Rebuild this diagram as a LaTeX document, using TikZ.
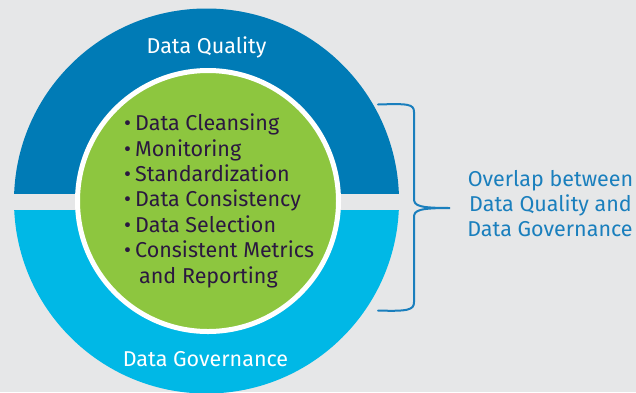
\documentclass[tikz,border=0pt]{standalone}
\usepackage{fontspec}
\setmainfont{Fira Sans}
\definecolor{bg}{HTML}{E6E7E8}
\definecolor{dq}{HTML}{007BB6}
\definecolor{dg}{HTML}{00B8E6}
\definecolor{gr}{HTML}{8DC63F}
\definecolor{tx}{HTML}{2B1840}
\definecolor{br}{HTML}{1A7FBD}
\begin{document}
\begin{tikzpicture}[x=1pt,y=-1pt,
  bigfont/.style={font=\fontsize{21.5}{25}\selectfont},
  ringlabel/.style={bigfont, text=white, inner sep=0pt, anchor=base},
  item/.style={bigfont, text=tx, inner sep=0pt, anchor=base west},
  side/.style={bigfont, text=br, inner sep=0pt, anchor=base},
  bracestyle/.style={draw=br, line width=2pt, line cap=round}]
\useasboundingbox (0,0) rectangle (636,392);
\fill[bg] (0,0) rectangle (636,392);
\begin{scope}
  \clip (0,0) rectangle (636,193);
  \fill[dq] (206.5,201) circle[radius=192.5];
\end{scope}
\begin{scope}
  \clip (0,210) rectangle (636,392);
  \fill[dg] (206.5,201) circle[radius=192.5];
\end{scope}
\node[circle, fill=gr, draw=white, line width=5pt, inner sep=0pt, minimum size=261pt] (core) at (208,201) {};
\node[ringlabel] (dqlabel) at (206.5,53) {Data Quality};
\node[ringlabel] (dglabel) at (205.5,366.7) {Data Governance};
\node[item] (l1) at (124,130.7) {•\hspace{4pt}Data Cleansing};
\node[item] (l2) at (124,156.1) {•\hspace{4pt}Monitoring};
\node[item] (l3) at (124,181.5) {•\hspace{4pt}Standardization};
\node[item] (l4) at (124,206.9) {•\hspace{4pt}Data Consistency};
\node[item] (l5) at (124,232.3) {•\hspace{4pt}Data Selection};
\node[item] (l6) at (124,257.7) {•\hspace{4pt}Consistent Metrics};
\node[item] (l7) at (139,283.1) {and Reporting};
\coordinate (btop) at (378,104.5);
\coordinate (bbot) at (378,310.5);
\coordinate (btip) at (450,208);
\draw[bracestyle] (btop) .. controls (408,103.5) and (414,104) .. (414,112) -- (414,199)
  .. controls (414,206) and (420,208) .. (btip)
  .. controls (420,208) and (414,210) .. (414,217) -- (414,302)
  .. controls (414,310) and (408,311.5) .. (bbot);
\node[side] (o1) at (550.5,186.7) {Overlap between};
\node[side] (o2) at (550.5,211.7) {Data Quality and};
\node[side] (o3) at (550,236.7) {Data Governance};
\end{tikzpicture}
\end{document}
